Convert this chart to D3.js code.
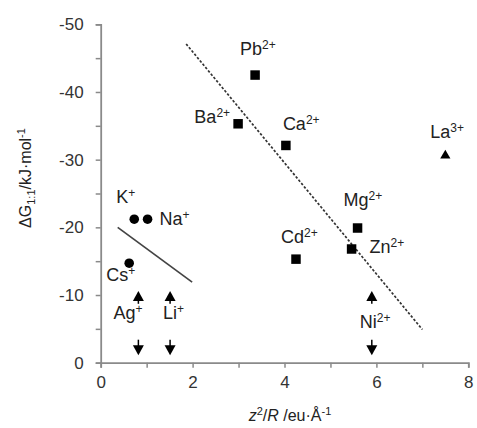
<!DOCTYPE html>
<html>
<head>
<meta charset="utf-8">
<script src="https://cdn.jsdelivr.net/npm/d3@7"></script>
<style>
  body { margin: 0; background: #fff; }
  text { font-family: "Liberation Sans", Arial, sans-serif; fill: #222; }
</style>
</head>
<body>
<div id="chart"></div>
<script>
var width = 477
var height = 428

// data
var ions      = ["Pb", "Ba", "Ca", "Cd", "Mg", "Zn", "La", "K", "Na", "Cs"]
var charges   = ["2+", "2+", "2+", "2+", "2+", "2+", "3+", "+", "+", "+"]
var z2R       = [3.36, 2.99, 4.03, 4.25, 5.59, 5.46, 7.5, 0.73, 1.02, 0.62]
var dG        = [-42.5, -35.3, -32.1, -15.3, -19.9, -16.8, -30.6, -21.2, -21.2, -14.7]
var shapes    = ["square", "square", "square", "square", "square", "square", "triangle", "circle", "circle", "circle"]

// ions with no measurable value (arrows only)
var arrowIons    = ["Ag", "Li", "Ni"]
var arrowCharges = ["+", "+", "2+"]
var arrowX       = [0.82, 1.51, 5.9]
var arrowUp      = [-8.7, -10.6]   // stem start, tip
var arrowDown    = [-3.4, -1.1]

// trend lines
var trend2 = [[1.86, -47.1], [7.0, -4.9]]
var trend1 = [[0.37, -20.0], [1.99, -11.9]]

var xTicks = [0, 1, 2, 3, 4, 5, 6, 7, 8]
var yTicks = [0, -5, -10, -15, -20, -25, -30, -35, -40, -45, -50]

// label offsets (px) from the marker
var labelPos = {
    Pb: [-15, -20, "start"], Ba: [-8, -1, "end"], Ca: [-3, -15, "start"],
    Cd: [-15, -16, "start"], Mg: [-14, -22, "start"], Zn: [18, 4, "start"],
    La: [-15, -18, "start"], K: [-18, -16, "start"], Na: [12, 6, "start"],
    Cs: [-23, 18, "start"], Ag: [-25, 0, "start"], Li: [-7, 0, "start"], Ni: [-12, 0, "start"]
}

var svg = d3.select("#chart")
    .append("svg")
    .attr("width", width)
    .attr("height", height)

var x = d3.scaleLinear().domain([0, 8]).range([100.7, 468.3])
var y = d3.scaleLinear().domain([0, -50]).range([362.7, 24.3])

// axes
var xAxis = svg.append("g")
    .attr("transform", "translate(0," + y(0) + ")")
    .call(d3.axisBottom(x).tickValues(xTicks).tickSize(5).tickPadding(8)
        .tickFormat(function (d) { return d % 2 == 0 ? d : "" }))
var yAxis = svg.append("g")
    .attr("transform", "translate(" + x(0) + ",0)")
    .call(d3.axisLeft(y).tickValues(yTicks).tickSize(5).tickPadding(12)
        .tickFormat(function (d) { return d % 10 == 0 ? d : "" }))

svg.selectAll(".domain").attr("stroke", "#8a8a8a").attr("stroke-width", 1.8)
svg.selectAll(".tick line").attr("stroke", "#8a8a8a").attr("stroke-width", 1.5)
svg.selectAll(".tick text").style("font-size", "17px").style("fill", "#333")
    .style("font-family", "Liberation Sans, Arial, sans-serif")

// trend lines
var line = d3.line().x(function (d) { return x(d[0]) }).y(function (d) { return y(d[1]) })
svg.append("path").attr("d", line(trend2)).attr("fill", "none")
    .attr("stroke", "#333").attr("stroke-width", 1.7).attr("stroke-dasharray", "2.5,1.8")
svg.append("path").attr("d", line(trend1)).attr("fill", "none")
    .attr("stroke", "#444").attr("stroke-width", 1.7)

// points
var pts = ions.map(function (n, i) { return { name: n, charge: charges[i], x: z2R[i], y: dG[i], shape: shapes[i] } })
var sym = { square: d3.symbolSquare, triangle: d3.symbolTriangle, circle: d3.symbolCircle }
var symSize = { square: 90, triangle: 45, circle: 72 }
svg.selectAll("path.pt")
    .data(pts)
    .enter()
    .append("path")
    .attr("class", "pt")
    .attr("transform", function (d) { return "translate(" + x(d.x) + "," + y(d.y) + ")" })
    .attr("d", function (d) { return d3.symbol().type(sym[d.shape]).size(symSize[d.shape])() })
    .attr("fill", "#000")

// arrows
var arr = arrowIons.map(function (n, i) { return { name: n, charge: arrowCharges[i], x: arrowX[i] } })
var ag = svg.selectAll("g.arrow").data(arr).enter().append("g").attr("class", "arrow")
ag.append("line")
    .attr("x1", function (d) { return x(d.x) }).attr("x2", function (d) { return x(d.x) })
    .attr("y1", y(arrowUp[0])).attr("y2", y(arrowUp[1]) + 8)
    .attr("stroke", "#000").attr("stroke-width", 1.5)
ag.append("path")
    .attr("d", function (d) {
        var cx = x(d.x), t = y(arrowUp[1])
        return "M" + cx + "," + t + "L" + (cx - 5.5) + "," + (t + 10) + "L" + (cx + 5.5) + "," + (t + 10) + "Z"
    })
ag.append("line")
    .attr("x1", function (d) { return x(d.x) }).attr("x2", function (d) { return x(d.x) })
    .attr("y1", y(arrowDown[0])).attr("y2", y(arrowDown[1]) - 8)
    .attr("stroke", "#000").attr("stroke-width", 1.5)
ag.append("path")
    .attr("d", function (d) {
        var cx = x(d.x), t = y(arrowDown[1])
        return "M" + cx + "," + t + "L" + (cx - 5.5) + "," + (t - 10) + "L" + (cx + 5.5) + "," + (t - 10) + "Z"
    })

// labels
function addLabel(px, py, d) {
    var o = labelPos[d.name]
    var t = svg.append("text")
        .attr("x", px + o[0]).attr("y", py + o[1])
        .attr("text-anchor", o[2])
        .style("font-size", "18px")
    t.append("tspan").text(d.name)
    t.append("tspan").text(d.charge).attr("dy", -6).style("font-size", "12px")
}
pts.forEach(function (d) { addLabel(x(d.x), y(d.y), d) })
arr.forEach(function (d) {
    var mid = d.name == "Ni" ? 328 : 319
    addLabel(x(d.x), mid, d)
})

// axis titles
var xt = svg.append("text")
    .attr("x", 290).attr("y", 421)
    .attr("text-anchor", "middle")
    .style("font-size", "16px")
xt.append("tspan").text("z").style("font-style", "italic")
xt.append("tspan").text("2").attr("dy", -6).style("font-size", "11px")
xt.append("tspan").text("/").attr("dy", 6)
xt.append("tspan").text("R").style("font-style", "italic")
xt.append("tspan").text(" /eu·Å")
xt.append("tspan").text("-1").attr("dy", -6).style("font-size", "11px")

var yt = svg.append("text")
    .attr("transform", "translate(31,178) rotate(-90)")
    .attr("text-anchor", "middle")
    .style("font-size", "16px")
yt.append("tspan").text("ΔG")
yt.append("tspan").text("1:1").attr("dy", 4).style("font-size", "11px")
yt.append("tspan").text("/kJ·mol").attr("dy", -4)
yt.append("tspan").text("-1").attr("dy", -6).style("font-size", "11px")
</script>
</body>
</html>
